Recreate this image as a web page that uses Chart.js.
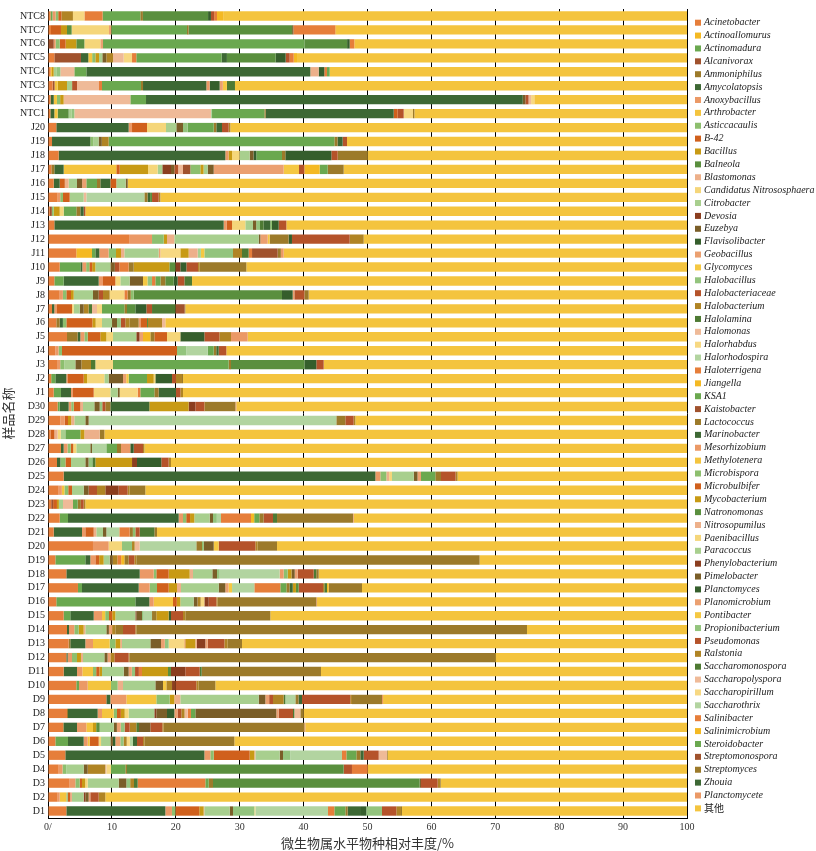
<!DOCTYPE html>
<html lang="zh">
<head>
<meta charset="utf-8">
<title>微生物属水平物种相对丰度</title>
<script src="https://cdn.jsdelivr.net/npm/chart.js@4.4.1/dist/chart.umd.min.js"></script>
<style>
  html, body { margin: 0; padding: 0; background: #fff; }
  #wrap { width: 816px; height: 851px; }
</style>
</head>
<body>
<div id="wrap"><canvas id="chart" width="816" height="851"></canvas></div>
<script>
const samples = [
    'NTC8', 'NTC7', 'NTC6', 'NTC5', 'NTC4', 'NTC3', 'NTC2', 'NTC1',
    'J20', 'J19', 'J18', 'J17', 'J16', 'J15', 'J14', 'J13', 'J12', 'J11',
    'J10', 'J9', 'J8', 'J7', 'J6', 'J5', 'J4', 'J3', 'J2', 'J1',
    'D30', 'D29', 'D28', 'D27', 'D26', 'D25', 'D24', 'D23', 'D22', 'D21',
    'D20', 'D19', 'D18', 'D17', 'D16', 'D15', 'D14', 'D13', 'D12', 'D11',
    'D10', 'D9', 'D8', 'D7', 'D6', 'D5', 'D4', 'D3', 'D2', 'D1'
];

const genera = [
    'Acinetobacter', 'Actinoallomurus', 'Actinomadura', 'Alcanivorax', 'Ammoniphilus',
    'Amycolatopsis', 'Anoxybacillus', 'Arthrobacter', 'Asticcacaulis', 'B-42',
    'Bacillus', 'Balneola', 'Blastomonas', 'Candidatus Nitrososphaera', 'Citrobacter',
    'Devosia', 'Euzebya', 'Flavisolibacter', 'Geobacillus', 'Glycomyces',
    'Halobacillus', 'Halobacteriaceae', 'Halobacterium', 'Halolamina', 'Halomonas',
    'Halorhabdus', 'Halorhodospira', 'Haloterrigena', 'Jiangella', 'KSA1',
    'Kaistobacter', 'Lactococcus', 'Marinobacter', 'Mesorhizobium', 'Methylotenera',
    'Microbispora', 'Microbulbifer', 'Mycobacterium', 'Natronomonas', 'Nitrosopumilus',
    'Paenibacillus', 'Paracoccus', 'Phenylobacterium', 'Pimelobacter', 'Planctomyces',
    'Planomicrobium', 'Pontibacter', 'Propionibacterium', 'Pseudomonas', 'Ralstonia',
    'Saccharomonospora', 'Saccharopolyspora', 'Saccharopirillum', 'Saccharothrix', 'Salinibacter',
    'Salinimicrobium', 'Steroidobacter', 'Streptomonospora', 'Streptomyces', 'Zhouia',
    'Planctomycete', '其他'
];

const tickLabels = ['0/', '10', '20', '30', '40', '50', '60', '70', '80', '90', '100'];

// each row: [genus index, relative abundance %], in stacking order
const ntcRows = [
    [[0,0.4],[2,0.3],[6,0.5],[8,0.4],[9,0.5],[22,1.8],[25,1.8],[27,2.85],[29,5.9],[31,0.4],[38,10.2],[44,0.45],[48,0.5],[54,0.45],[55,1.05],[61,72.5]],
    [[0,0.47],[9,1.56],[10,0.94],[11,0.73],[13,5.85],[18,0.35],[29,11.85],[31,0.25],[38,16.2],[43,0.2],[54,6.57],[55,0.23],[61,54.8]],
    [[3,0.89],[6,0.3],[8,0.64],[9,0.93],[10,1.67],[11,1.26],[13,2.5],[18,0.42],[29,31.5],[38,6.7],[44,0.4],[54,0.73],[61,52.06]],
    [[0,0.99],[3,4.17],[5,1.15],[7,0.6],[8,0.5],[10,0.57],[14,0.52],[16,0.63],[22,1.04],[24,1.67],[25,1.31],[27,0.67],[29,13.36],[32,0.82],[38,7.63],[44,1.56],[48,0.63],[54,0.63],[55,0.52],[61,61.03]],
    [[0,0.4],[1,0.2],[10,0.29],[14,0.5],[20,0.54],[24,2.19],[29,1.88],[32,35.05],[39,1.31],[44,0.88],[54,0.42],[56,0.42],[61,55.92]],
    [[0,0.73],[3,0.3],[7,0.48],[10,1.46],[14,0.8],[21,0.77],[24,3.44],[27,0.47],[29,6.1],[31,0.32],[32,9.91],[33,0.52],[44,1.56],[45,0.5],[46,0.64],[50,1.26],[61,70.74]],
    [[0,0.4],[5,0.5],[7,0.5],[8,0.5],[10,0.55],[24,10.44],[29,2.45],[32,58.96],[43,0.4],[48,0.5],[51,0.4],[52,0.5],[61,23.9]],
    [[0,0.37],[5,0.62],[7,0.52],[11,1.72],[14,0.5],[20,0.39],[24,21.38],[26,0.17],[29,8.19],[31,0.21],[32,20.03],[36,0.62],[48,0.94],[52,1.46],[58,0.21],[61,42.67]]
];

const jRows = [
    [[0,1.3],[5,11.32],[6,0.53],[9,2.34],[13,2.98],[14,1.61],[16,1.05],[20,0.73],[29,4.07],[31,0.41],[32,0.89],[48,1.04],[49,0.26],[61,71.47]],
    [[0,0.63],[5,5.99],[8,0.5],[14,0.8],[16,0.5],[22,1.07],[29,35.32],[31,0.5],[32,0.8],[48,0.68],[61,53.21]],
    [[0,1.67],[5,26.08],[6,0.5],[10,0.55],[13,1.2],[14,1.56],[16,0.6],[17,0.44],[29,4.02],[31,0.52],[44,7.2],[48,0.99],[58,4.7],[61,49.97]],
    [[0,0.52],[4,0.47],[5,1.46],[7,8.24],[9,0.53],[10,4.43],[13,1.51],[14,0.73],[15,1.36],[16,0.52],[21,0.6],[24,0.76],[30,1.14],[35,1.57],[37,0.5],[41,0.65],[43,0.94],[45,10.95],[46,2.4],[48,0.84],[55,2.39],[56,1.26],[58,2.5],[61,53.73]],
    [[0,0.89],[5,0.94],[9,0.8],[12,0.6],[14,1.31],[16,0.8],[18,0.66],[29,1.67],[31,0.52],[32,1.57],[36,0.93],[41,1.46],[43,0.32],[61,87.53]],
    [[0,1.51],[6,0.4],[8,0.44],[9,1.04],[14,2.19],[24,0.42],[26,9.08],[31,0.5],[32,0.4],[38,0.3],[48,1.04],[49,0.26],[61,82.42]],
    [[0,0.3],[3,0.3],[8,0.29],[10,0.94],[13,0.62],[29,1.98],[31,0.63],[32,0.52],[48,0.26],[61,94.16]],
    [[0,0.99],[5,26.5],[6,0.5],[9,0.81],[13,2.08],[14,1.2],[16,0.5],[20,0.6],[23,0.57],[32,1.04],[35,0.26],[44,1.05],[48,1.2],[61,62.7]],
    [[0,12.78],[6,3.5],[8,1.83],[10,0.51],[12,1.15],[14,13.2],[16,0.26],[18,1.15],[19,0.31],[31,2.97],[44,0.52],[48,9.03],[49,2.19],[61,50.6]],
    [[0,4.43],[1,2.46],[2,0.52],[5,0.62],[6,1.46],[8,1.15],[10,0.78],[12,0.53],[14,5.37],[18,0.26],[25,3.13],[37,1.3],[39,1.41],[41,0.5],[46,0.55],[47,4.48],[49,1.41],[50,1.04],[54,0.53],[57,4.01],[58,0.5],[60,0.44],[61,63.12]],
    [[0,1.83],[2,3.23],[5,0.31],[6,0.6],[8,0.5],[9,0.44],[10,0.5],[14,2.35],[16,0.7],[21,0.7],[27,1.46],[31,0.79],[37,5.58],[38,0.94],[42,0.78],[44,0.94],[48,1.83],[49,0.26],[58,7.3],[61,68.96]],
    [[0,0.99],[2,1.46],[5,5.48],[6,0.68],[9,1.93],[13,0.78],[14,1.46],[16,2.09],[19,0.7],[20,0.71],[27,0.52],[29,0.8],[31,0.76],[38,1.31],[44,0.62],[48,1.05],[50,1.2],[61,77.46]],
    [[0,1.83],[6,0.5],[8,0.54],[9,0.73],[10,0.42],[14,3.02],[16,0.89],[21,0.68],[22,1.04],[25,2.3],[27,0.5],[31,0.5],[35,0.46],[38,23.21],[44,1.67],[45,0.26],[48,1.57],[58,0.67],[61,59.21]],
    [[0,0.63],[5,0.36],[6,0.42],[9,2.35],[13,0.26],[14,0.94],[16,0.62],[22,0.78],[23,0.53],[24,0.78],[25,0.78],[29,3.5],[31,0.41],[38,1.31],[44,1.72],[48,0.89],[50,3.65],[57,1.46],[58,0.1],[61,78.51]],
    [[0,1.3],[4,0.53],[5,0.5],[8,0.54],[9,4.07],[10,0.52],[13,0.99],[14,1.57],[16,0.78],[20,0.6],[21,0.7],[22,0.68],[31,1.41],[33,0.26],[36,1.04],[38,0.16],[49,2.19],[51,0.52],[61,81.64]],
    [[0,2.97],[4,1.67],[5,0.42],[6,0.63],[8,0.52],[9,1.98],[10,0.94],[13,1.04],[14,3.65],[15,0.5],[18,0.55],[28,1.15],[31,0.62],[36,1.98],[40,2.09],[44,3.76],[48,2.35],[49,1.82],[60,2.61],[61,68.75]],
    [[0,1.15],[6,0.5],[8,0.54],[9,18.0],[20,1.46],[26,3.34],[29,0.94],[31,0.4],[32,0.38],[48,1.2],[61,72.09]],
    [[0,1.41],[6,0.5],[8,0.65],[14,1.72],[16,0.94],[22,1.51],[23,0.68],[25,2.76],[29,18.1],[31,0.37],[38,11.48],[44,1.87],[48,1.15],[61,56.86]],
    [[0,0.5],[2,0.65],[5,1.72],[6,0.26],[9,2.45],[10,0.52],[13,2.72],[14,0.67],[16,2.25],[18,0.5],[19,0.38],[29,2.87],[37,1.05],[40,0.26],[44,2.61],[48,0.62],[49,0.94],[58,0.16],[61,78.87]],
    [[0,0.89],[2,1.14],[5,1.57],[6,0.31],[9,3.24],[13,2.61],[14,1.14],[16,0.32],[25,2.81],[27,0.42],[29,2.19],[31,0.68],[32,2.71],[48,0.68],[49,0.42],[61,78.87]]
];

const dRows = [
    [[0,1.51],[2,0.32],[5,1.4],[6,0.4],[8,0.39],[9,1.04],[12,0.42],[14,1.77],[16,0.84],[20,0.4],[21,0.48],[31,0.79],[32,6.1],[37,6.15],[42,1.05],[48,1.41],[49,0.1],[58,4.75],[60,0.15],[61,70.53]],
    [[0,1.93],[6,0.7],[9,0.5],[10,0.5],[12,0.49],[14,1.72],[16,0.52],[26,38.76],[31,1.41],[48,1.3],[49,0.27],[61,51.9]],
    [[0,0.4],[9,0.6],[12,0.5],[13,0.5],[14,0.71],[29,2.35],[37,0.63],[39,2.4],[58,0.73],[61,91.18]],
    [[0,2.03],[5,0.42],[6,0.6],[8,0.5],[9,0.4],[13,0.48],[14,2.19],[16,0.27],[26,2.24],[29,1.67],[31,0.62],[33,1.46],[44,0.53],[48,1.46],[49,0.21],[61,84.92]],
    [[0,1.41],[5,0.52],[8,0.8],[9,0.87],[14,2.24],[16,0.5],[20,0.6],[23,0.47],[37,5.74],[42,0.78],[44,3.8],[48,1.15],[49,0.37],[61,80.75]],
    [[0,2.45],[5,48.78],[6,0.78],[8,0.94],[12,0.44],[13,0.44],[14,3.4],[16,0.6],[18,0.54],[29,2.24],[31,0.89],[48,2.29],[49,0.31],[61,35.9]],
    [[0,1.67],[6,0.5],[7,0.4],[8,0.6],[9,0.59],[14,1.82],[16,0.78],[21,1.31],[22,1.3],[42,2.09],[48,1.41],[49,0.31],[58,2.45],[61,84.77]],
    [[0,0.5],[3,0.3],[9,0.6],[10,0.3],[14,0.65],[24,1.56],[29,0.73],[31,0.5],[48,0.44],[49,0.26],[61,94.16]],
    [[0,1.83],[2,1.3],[5,17.32],[6,0.68],[8,0.5],[9,0.6],[10,0.67],[14,2.4],[16,0.52],[20,0.6],[26,0.65],[27,4.7],[28,0.5],[29,0.8],[31,0.68],[48,1.46],[50,0.63],[58,11.89],[60,0.11],[61,52.16]],
    [[0,0.89],[5,4.43],[6,0.52],[9,1.31],[12,0.41],[14,1.05],[16,0.52],[26,2.03],[27,1.62],[31,0.5],[35,0.39],[48,0.68],[50,2.29],[58,0.42],[61,82.94]],
    [[0,7.04],[6,2.45],[13,2.09],[20,1.57],[22,0.41],[24,0.79],[26,8.86],[31,0.89],[35,0.26],[43,1.57],[46,0.78],[48,5.74],[49,0.36],[58,3.03],[61,64.16]],
    [[0,1.15],[2,4.69],[5,0.78],[6,0.79],[9,0.6],[10,0.7],[14,0.94],[16,0.5],[22,0.7],[27,0.6],[28,0.5],[31,0.67],[48,0.89],[49,0.31],[58,53.72],[61,32.46]],
    [[0,2.87],[5,11.48],[6,2.19],[8,0.41],[9,1.93],[10,3.29],[12,0.52],[14,3.03],[16,0.73],[20,0.41],[26,9.39],[33,0.63],[35,0.63],[37,0.6],[43,0.5],[45,0.46],[48,2.51],[50,0.4],[58,0.38],[61,57.64]],
    [[0,4.69],[2,0.63],[5,8.87],[6,1.72],[8,1.15],[9,1.82],[10,1.31],[12,0.62],[14,5.9],[16,1.04],[18,0.5],[19,0.55],[26,3.49],[27,4.07],[29,0.94],[31,0.5],[32,0.5],[37,0.5],[38,0.43],[48,3.81],[49,0.2],[50,0.42],[55,0.26],[58,5.22],[61,50.86]],
    [[0,1.3],[2,12.37],[5,2.19],[6,0.68],[7,3.02],[9,0.6],[10,0.55],[14,2.08],[16,0.6],[22,0.5],[25,0.58],[42,0.68],[48,1.2],[49,0.2],[58,15.44],[60,0.11],[61,57.9]],
    [[0,2.45],[2,1.04],[5,3.66],[6,1.3],[7,0.5],[8,0.6],[9,0.5],[10,0.49],[14,3.13],[15,0.15],[16,0.89],[20,0.26],[26,1.31],[31,0.67],[37,1.93],[44,0.37],[48,1.88],[49,0.36],[58,13.3],[61,65.21]],
    [[0,2.97],[5,0.32],[6,0.83],[8,0.68],[10,0.78],[12,0.26],[14,3.29],[16,0.4],[18,0.5],[22,0.51],[31,1.2],[48,1.93],[49,0.15],[58,61.14],[61,25.04]],
    [[0,3.23],[4,0.26],[5,2.35],[6,1.2],[7,2.61],[8,0.89],[10,0.78],[12,0.26],[14,4.44],[16,1.66],[18,0.6],[20,0.6],[25,2.46],[27,0.15],[37,1.57],[39,0.26],[42,1.3],[45,0.37],[48,2.61],[49,0.52],[58,2.24],[61,69.64]],
    [[0,2.87],[5,0.21],[6,0.68],[8,0.78],[10,0.62],[12,0.32],[14,3.34],[16,0.5],[18,0.44],[22,0.62],[48,2.24],[49,0.16],[58,57.22],[61,30.0]],
    [[0,2.45],[5,2.09],[6,0.83],[7,1.67],[8,0.5],[9,0.5],[10,0.41],[14,3.39],[16,0.78],[18,0.5],[20,0.5],[21,0.6],[27,0.49],[37,4.07],[38,0.47],[42,2.24],[48,2.25],[50,0.31],[58,18.67],[61,57.28]],
    [[0,4.43],[2,0.42],[6,1.36],[7,3.65],[8,1.04],[12,0.84],[14,5.06],[16,1.2],[19,0.52],[22,0.89],[42,0.52],[48,3.28],[49,0.37],[58,2.61],[61,73.81]],
    [[0,9.13],[5,0.63],[6,2.5],[7,4.69],[8,2.09],[10,0.73],[12,0.94],[14,12.26],[16,1.04],[18,0.6],[21,0.6],[22,1.67],[23,0.26],[26,1.57],[31,0.5],[32,0.54],[48,7.56],[49,0.26],[58,4.7],[60,0.16],[61,47.57]],
    [[0,2.97],[4,0.16],[5,4.64],[6,0.68],[7,1.83],[8,0.52],[9,0.6],[10,0.6],[13,0.62],[14,4.02],[15,0.31],[16,1.67],[17,1.15],[18,0.5],[21,0.6],[22,0.5],[24,0.5],[27,0.5],[29,0.69],[43,12.67],[45,0.37],[48,2.24],[50,0.21],[51,0.94],[58,0.52],[61,59.99]],
    [[0,2.35],[4,0.1],[5,2.09],[6,1.46],[7,1.04],[10,0.5],[11,0.55],[14,2.19],[16,0.5],[18,0.6],[20,0.6],[21,0.8],[22,1.04],[23,0.42],[43,1.78],[48,1.87],[49,0.21],[58,22.02],[60,0.15],[61,59.73]],
    [[0,1.15],[2,1.98],[5,2.45],[6,0.63],[7,0.31],[9,1.41],[13,0.37],[14,1.46],[16,0.4],[17,0.38],[18,0.78],[20,0.5],[22,0.5],[25,0.5],[26,0.48],[32,0.63],[48,0.94],[49,0.21],[58,14.08],[61,70.84]],
    [[0,2.71],[5,21.76],[6,0.94],[8,0.52],[9,5.63],[10,0.73],[12,0.16],[14,3.81],[16,0.52],[20,1.14],[26,8.09],[27,0.68],[29,1.56],[31,0.63],[32,0.52],[48,2.35],[51,1.3],[58,0.11],[61,46.84]],
    [[0,1.67],[6,0.6],[8,0.6],[14,2.71],[16,0.63],[22,2.76],[24,0.16],[25,0.73],[29,2.24],[31,0.26],[38,33.91],[48,1.3],[54,2.46],[61,49.97]],
    [[0,3.39],[6,0.89],[8,0.68],[9,0.36],[10,0.5],[13,0.39],[14,4.85],[16,1.2],[20,0.6],[22,0.6],[23,0.57],[27,10.59],[29,0.53],[31,0.67],[38,32.34],[43,0.21],[48,2.61],[49,0.42],[58,0.1],[61,38.5]],
    [[0,1.51],[6,0.32],[7,1.04],[8,0.21],[9,0.41],[12,0.27],[14,1.82],[15,0.26],[16,0.52],[18,0.26],[21,1.31],[22,1.04],[61,91.03]],
    [[0,2.87],[5,15.49],[6,1.04],[8,0.53],[9,3.75],[10,0.68],[12,0.1],[14,3.97],[16,0.52],[20,3.34],[25,0.16],[26,11.37],[27,0.99],[29,1.72],[31,0.37],[32,2.08],[44,0.84],[47,2.45],[48,2.24],[49,0.73],[58,0.16],[61,44.6]]
];

// colour cycle used by the legend (27 colours, repeating)
const palette = [
    '#e67e3a', '#f4b923', '#6aa84f', '#a0522d', '#9c7a2a', '#3d6834', '#eb9966', '#f4c43e', '#8dbf6e',
    '#d0601c', '#c89a14', '#5a8f3e', '#edb08a', '#f5d67a', '#a8cf8e', '#8b3e1f', '#7a5e28', '#355e2c',
    '#eba070', '#f5c842', '#93c47d', '#b5532a', '#b08424', '#4e7a33', '#efba98', '#f7d882', '#b2d4a0'
];

const rows = [...ntcRows, ...jRows, ...dRows];

const datasets = genera.map((name, g) => ({
    label: name,
    data: rows.map(row => {
        const seg = row.find(s => s[0] === g);
        return seg ? seg[1] : 0;
    }),
    backgroundColor: palette[g % palette.length],
    borderWidth: 0,
    barPercentage: 0.67,
    categoryPercentage: 1.0
}));

// legend column on the right, drawn by hand so the spacing matches
const sideLegend = {
    id: 'sideLegend',
    afterDraw(chart) {
        const ctx = chart.ctx;
        ctx.save();
        ctx.textBaseline = 'middle';
        ctx.textAlign = 'left';
        chart.data.datasets.forEach((ds, i) => {
            const y = 22.7 + i * 12.88;
            ctx.fillStyle = ds.backgroundColor;
            ctx.fillRect(695, y - 3, 6, 6);
            ctx.fillStyle = '#222';
            ctx.font = /[\u4e00-\u9fff]/.test(ds.label)
                ? '10px "Noto Sans CJK SC"'
                : 'italic 10px "Liberation Serif"';
            ctx.fillText(ds.label, 704, y);
        });
        ctx.restore();
    }
};

Chart.defaults.font.family = '"Liberation Serif", "Times New Roman", serif';
Chart.defaults.color = '#222';

new Chart(document.getElementById('chart'), {
    type: 'bar',
    data: {
        labels: samples,
        datasets: datasets
    },
    options: {
        indexAxis: 'y',
        responsive: false,
        animation: false,
        layout: {
            padding: { left: 0, right: 129, top: 2, bottom: 0 }
        },
        plugins: {
            legend: { display: false },
            tooltip: { enabled: false }
        },
        scales: {
            x: {
                stacked: true,
                min: 0,
                max: 100,
                afterFit: scale => { scale.height = 33; },
                afterBuildTicks: scale => {
                    scale.ticks = tickLabels.map((t, i) => ({ value: i * 10 }));
                },
                ticks: {
                    padding: 3,
                    font: { size: 10 },
                    color: '#333',
                    maxRotation: 0,
                    callback: (value, index) => tickLabels[index]
                },
                grid: {
                    color: '#000',
                    lineWidth: 1,
                    drawTicks: false
                },
                border: { display: true, color: '#000', width: 1 },
                title: {
                    display: true,
                    text: '微生物属水平物种相对丰度/%',
                    font: { family: '"Noto Sans CJK SC"', size: 13 },
                    color: '#333',
                    padding: { top: 0, bottom: 0 }
                }
            },
            y: {
                stacked: true,
                z: 1,
                afterFit: scale => { scale.width = 48; },
                ticks: {
                    padding: 3,
                    font: { size: 10 },
                    color: '#222',
                    autoSkip: false
                },
                grid: { display: false, drawTicks: false },
                border: { display: true, color: '#000', width: 1 },
                title: {
                    display: true,
                    text: '样品名称',
                    font: { family: '"Noto Sans CJK SC"', size: 13 },
                    color: '#333',
                    padding: { top: 0, bottom: 0 }
                }
            }
        }
    },
    plugins: [sideLegend]
});
</script>
</body>
</html>
